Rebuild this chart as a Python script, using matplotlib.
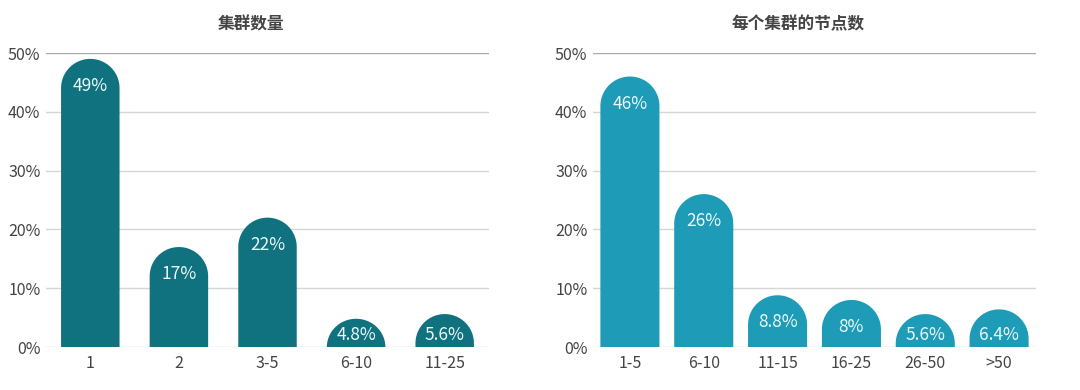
import matplotlib
matplotlib.use("Agg")
import matplotlib.pyplot as plt
from matplotlib.path import Path
from matplotlib.patches import PathPatch
import numpy as np

plt.rcParams['font.family'] = ['Noto Sans CJK SC', 'DejaVu Sans']

title_left = "集群数量"
cats_left = ["1", "2", "3-5", "6-10", "11-25"]
vals_left = [49, 17, 22, 4.8, 5.6]
labels_left = ["49%", "17%", "22%", "4.8%", "5.6%"]

title_right = "每个集群的节点数"
cats_right = ["1-5", "6-10", "11-15", "16-25", "26-50", ">50"]
vals_right = [46, 26, 8.8, 8, 5.6, 6.4]
labels_right = ["46%", "26%", "8.8%", "8%", "5.6%", "6.4%"]

yticks = [0, 10, 20, 30, 40, 50]
ytick_labels = ["0%", "10%", "20%", "30%", "40%", "50%"]

W, H = 1080, 390
fig = plt.figure(figsize=(W / 100, H / 100), dpi=100)
fig.patch.set_facecolor("white")


def rounded_bar(ax, x, h, w, color):
    p0 = ax.transData.transform((0, 0))
    p1 = ax.transData.transform((1, 1))
    sx = p1[0] - p0[0]
    sy = p1[1] - p0[1]
    rx = w / 2
    ry = rx * sx / sy
    ry = min(ry, h)
    base = h - ry
    t = np.linspace(0, np.pi, 60)
    xs = [x - rx] + list(x - rx * np.cos(t)) + [x + rx]
    ys = [0] + list(base + ry * np.sin(t)) + [0]
    verts = list(zip(xs, ys)) + [(x - rx, 0)]
    codes = [Path.MOVETO] + [Path.LINETO] * (len(verts) - 2) + [Path.CLOSEPOLY]
    ax.add_patch(PathPatch(Path(verts, codes), facecolor=color, edgecolor="none", zorder=3))


def draw(ax, cats, vals, labels, color, width):
    n = len(cats)
    ax.set_xlim(-0.5, n - 0.5)
    ax.set_ylim(0, 50)
    for s in ax.spines.values():
        s.set_visible(False)
    for yv in yticks:
        c = "#aaaaaa" if yv == 50 else "#d6d6d6"
        ax.axhline(yv, color=c, lw=1.0, zorder=1)
    ax.set_yticks(yticks)
    ax.set_yticklabels(ytick_labels)
    ax.set_xticks(range(n))
    ax.set_xticklabels(cats)
    ax.tick_params(axis="both", length=0, labelsize=11.5, colors="#444444")
    ax.tick_params(axis="y", pad=4)
    ax.tick_params(axis="x", pad=6)
    fig.canvas.draw()
    sy = ax.transData.transform((0, 1))[1] - ax.transData.transform((0, 0))[1]
    for i, (v, lab) in enumerate(zip(vals, labels)):
        rounded_bar(ax, i, v, width, color)
        ly = max(v - 27 / sy, 12 / sy)
        ax.text(i, ly, lab, ha="center", va="center", color="#eaf9fb",
                fontsize=12.5, zorder=4)


axL = fig.add_axes([46 / W, 1 - 347 / H, 443 / W, 294 / H])
axR = fig.add_axes([593 / W, 1 - 347 / H, 443 / W, 294 / H])
draw(axL, cats_left, vals_left, labels_left, "#10717f", 0.66)
draw(axR, cats_right, vals_right, labels_right, "#1d9bb7", 0.8)

fig.text(251 / W, 1 - 24 / H, title_left, ha="center", va="center",
         fontsize=12, color="#444444", fontweight="bold")
fig.text(798 / W, 1 - 24 / H, title_right, ha="center", va="center",
         fontsize=12, color="#444444", fontweight="bold")

fig.savefig("out.png", dpi=100, facecolor="white")
